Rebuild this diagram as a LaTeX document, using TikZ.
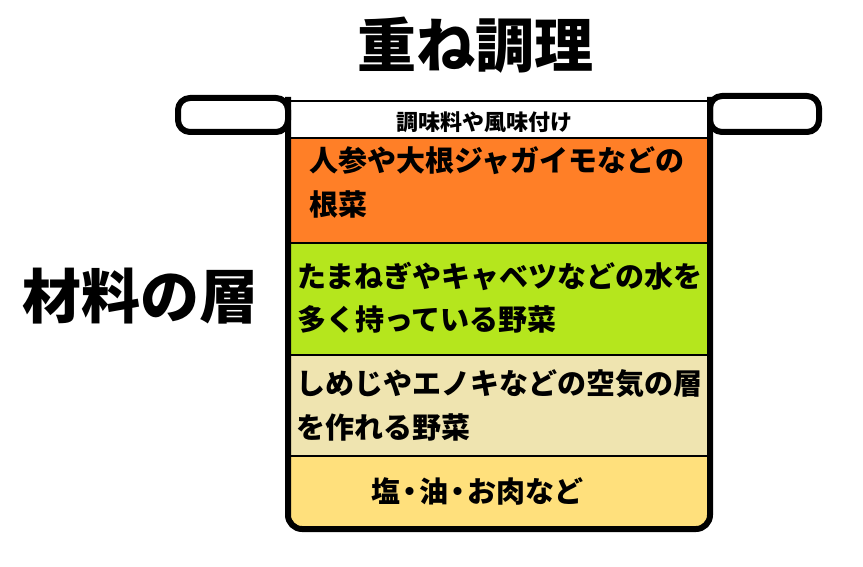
\documentclass[tikz,border=0pt]{standalone}
\usepackage{fontspec}
\setmainfont{Noto Sans CJK JP}
\definecolor{lorange}{RGB}{255,127,39}
\definecolor{lgreen}{RGB}{181,230,29}
\definecolor{lbeige}{RGB}{239,228,176}
\definecolor{lyellow}{RGB}{255,224,124}
\newcommand{\mdot}{\makebox[19pt][c]{・}}
\tikzset{
  wall/.style={line width=6pt, black, line join=round},
  sep/.style={line width=1.5pt, black},
  body/.style={font=\bfseries\fontsize{29}{29}\selectfont, inner sep=0pt, anchor=west},
  big/.style={font=\bfseries\fontsize{59}{59}\selectfont, inner sep=0pt},
}
\begin{document}
\begin{tikzpicture}[x=1pt,y=-1pt]
\useasboundingbox (0,0) rectangle (863,567);
% layers
\fill[white] (288,101) rectangle (710,138);
\fill[lorange] (288,138) rectangle (710,243);
\fill[lgreen] (288,243) rectangle (710,355);
\fill[lbeige] (288,355) rectangle (710,456);
\fill[lyellow] (288,456) [rounded corners=14] -- (288,529) -- (710,529) [sharp corners] -- (710,456) -- cycle;
% separators
\draw[sep] (288,101) -- (710,101);
\draw[sep] (288,138) -- (710,138);
\draw[sep] (288,243) -- (710,243);
\draw[sep] (288,355) -- (710,355);
\draw[sep] (288,456) -- (710,456);
% pot walls
\draw[wall, rounded corners=14] (288,97) -- (288,529) -- (710,529) -- (710,97);
% handles
\draw[wall, rounded corners=12] (178,98) rectangle (288,132);
\draw[wall, rounded corners=12] (710,96) rectangle (819,132);
% titles
\node[big] (title) at (475,45) {重ね調理};
\node[big] (side) at (141,296) {材料の層};
% texts
\node[font=\bfseries\fontsize{22}{22}\selectfont, inner sep=0pt] (season) at (484,122) {調味料や風味付け};
\node[body] (o1) at (309,161) {人参や大根ジャガイモなどの};
\node[body] (o2) at (309,204) {根菜};
\node[body] (g1) at (297,276) {たまねぎやキャベツなどの水を};
\node[body] (g2) at (297,319) {多く持っている野菜};
\node[body] (b1) at (296,384) {しめじやエノキなどの空気の層};
\node[body] (b2) at (296,427) {を作れる野菜};
\node[body, anchor=center] (y1) at (477,491) {塩\mdot 油\mdot お肉など};
\end{tikzpicture}
\end{document}
